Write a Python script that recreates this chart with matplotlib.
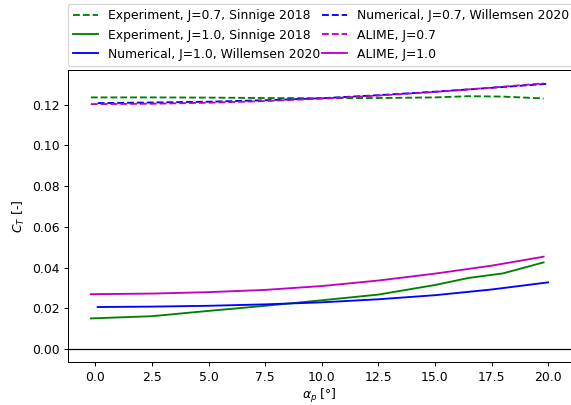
import matplotlib
matplotlib.use('Agg')
import matplotlib.pyplot as plt

# angle of attack [deg]
alpha_exp = [-0.2, 2.5, 5.0, 7.5, 10.0, 12.5, 15.0, 16.5, 18.0, 19.8]
ct_exp_07 = [0.1236, 0.1236, 0.1235, 0.1233, 0.1232, 0.1233, 0.1236, 0.1242, 0.1240, 0.1231]
ct_exp_10 = [0.0151, 0.0162, 0.0188, 0.0213, 0.0240, 0.0268, 0.0315, 0.0350, 0.0372, 0.0426]

alpha_num = [0.1, 2.5, 5.0, 7.5, 10.0, 12.5, 15.0, 17.5, 20.0]
ct_num_07 = [0.1208, 0.1211, 0.1215, 0.1222, 0.1232, 0.1247, 0.1264, 0.1283, 0.1303]
ct_num_10 = [0.0207, 0.0209, 0.0213, 0.0220, 0.0230, 0.0245, 0.0265, 0.0293, 0.0328]

alpha_alime = [-0.2, 2.5, 5.0, 7.5, 10.0, 12.5, 15.0, 17.5, 19.8]
ct_alime_07 = [0.1203, 0.1205, 0.1210, 0.1218, 0.1230, 0.1245, 0.1263, 0.1284, 0.1305]
ct_alime_10 = [0.0270, 0.0273, 0.0280, 0.0291, 0.0310, 0.0337, 0.0371, 0.0410, 0.0454]

dpi = 89
fig = plt.figure(figsize=(571 / dpi, 405 / dpi), dpi=dpi)
ax = fig.add_axes([0.119, 0.105, 0.881, 0.722])

ax.plot(alpha_exp, ct_exp_07, 'g--', label='Experiment, J=0.7, Sinnige 2018')
ax.plot(alpha_exp, ct_exp_10, 'g-', label='Experiment, J=1.0, Sinnige 2018')
ax.plot(alpha_num, ct_num_10, 'b-', label='Numerical, J=1.0, Willemsen 2020')
ax.plot(alpha_num, ct_num_07, 'b--', label='Numerical, J=0.7, Willemsen 2020')
ax.plot(alpha_alime, ct_alime_07, 'm--', label='ALIME, J=0.7')
ax.plot(alpha_alime, ct_alime_10, 'm-', label='ALIME, J=1.0')
ax.axhline(0, color='k', lw=1)

ax.set_xlabel(r'$\alpha_p$ [°]', labelpad=2)
ax.set_ylabel(r'$C_T$ [-]')
ax.legend(loc='lower left', bbox_to_anchor=(0, 1.015), borderaxespad=0,
          ncol=2, columnspacing=0.2)

fig.savefig('out.png', dpi=dpi)
